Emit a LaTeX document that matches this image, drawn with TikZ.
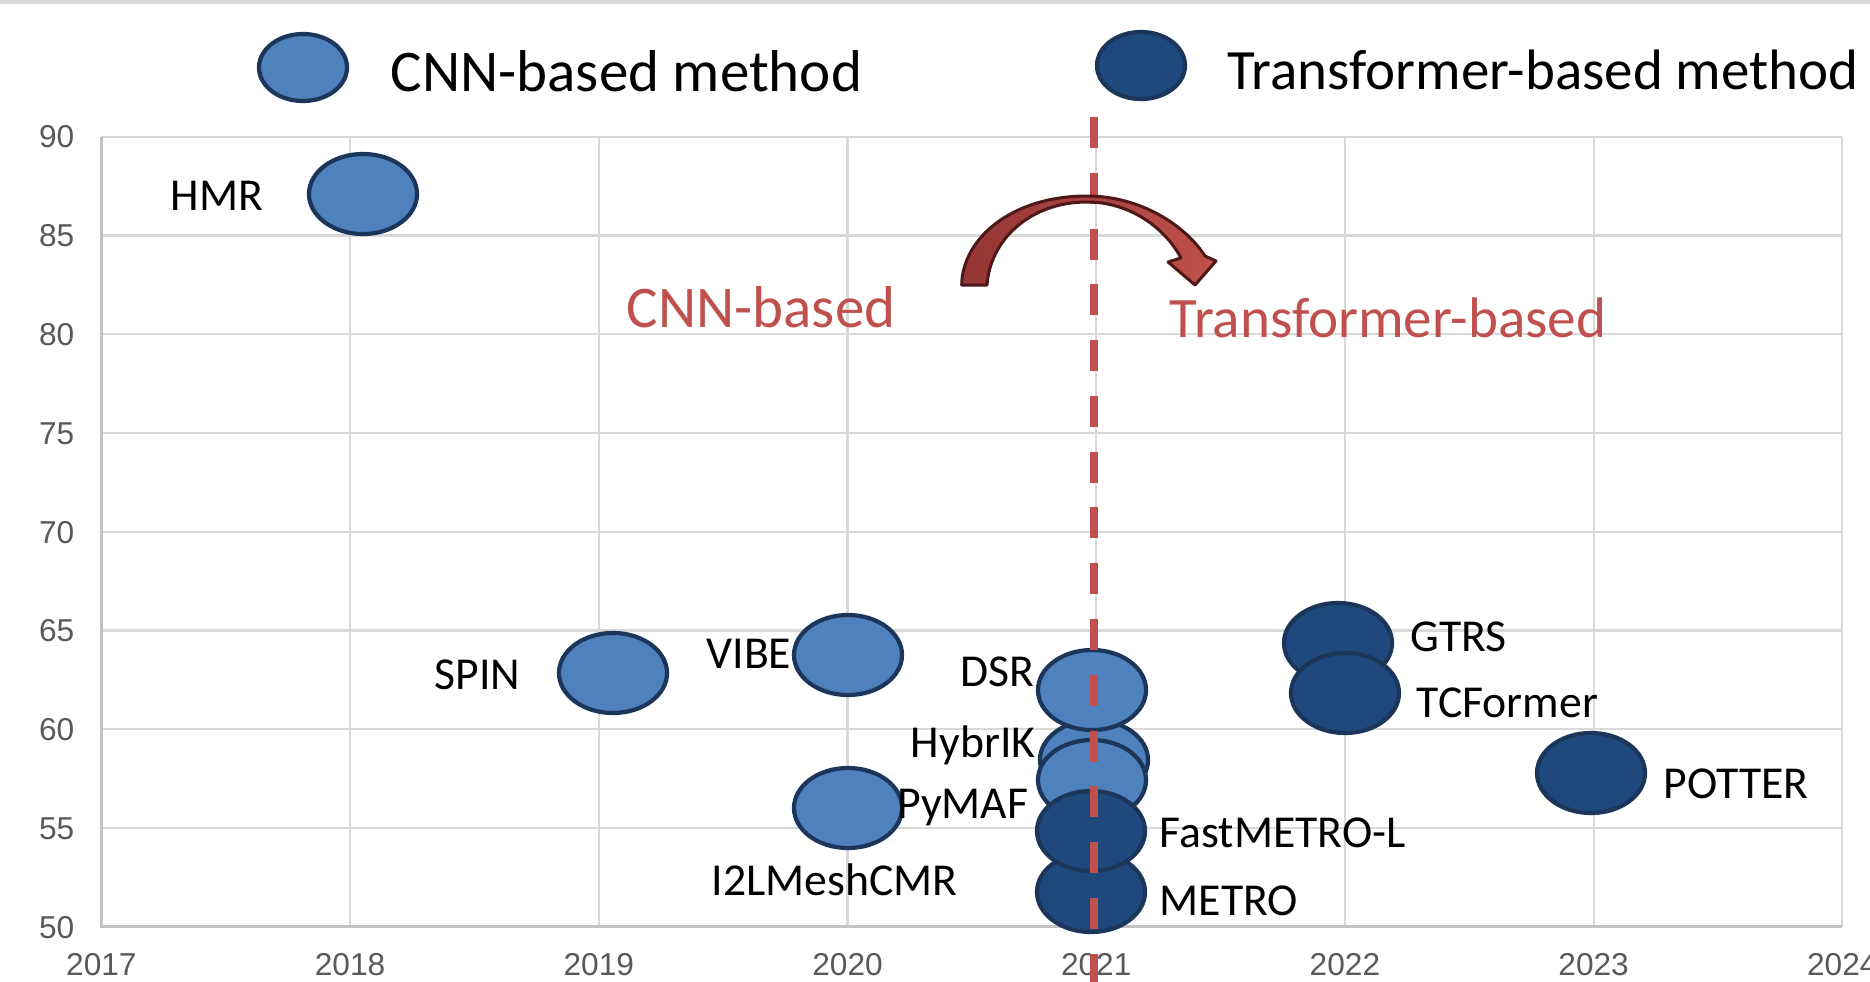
\documentclass[tikz,border=0pt]{standalone}
\usepackage{fontspec}
\setmainfont{Carlito}
\newfontfamily\tickfont{Liberation Sans}
\usetikzlibrary{shapes.geometric}
\definecolor{gridc}{HTML}{D9D9D9}
\definecolor{tickc}{HTML}{595959}
\definecolor{lightb}{HTML}{4F81BD}
\definecolor{darkb}{HTML}{1F497D}
\definecolor{bubline}{HTML}{1B355B}
\definecolor{redt}{HTML}{C0504D}
\definecolor{arrdark}{HTML}{943634}
\definecolor{arrline}{HTML}{4E1818}
\tikzset{
  bub/.style={ellipse, draw=bubline, line width=0.042cm, inner sep=0pt,
              minimum width=1.08cm, minimum height=0.80cm},
  lightbub/.style={bub, fill=lightb},
  darkbub/.style={bub, fill=darkb},
  legbub/.style={ellipse, draw=bubline, line width=0.042cm, inner sep=0pt,
              minimum width=0.88cm, minimum height=0.67cm},
  lbl/.style={inner sep=0pt, font=\fontsize{13pt}{15pt}\selectfont, text=black},
  legtxt/.style={inner sep=0pt, font=\fontsize{16.8pt}{20pt}\selectfont, text=black},
  legtxtb/.style={inner sep=0pt, font=\fontsize{16.2pt}{20pt}\selectfont, text=black},
  redtxt/.style={inner sep=0pt, font=\fontsize{16.8pt}{20pt}\selectfont, text=redt},
  redtxtb/.style={inner sep=0pt, font=\fontsize{16.25pt}{20pt}\selectfont, text=redt},
  tick/.style={inner sep=0pt, font=\tickfont\fontsize{9pt}{11pt}\selectfont, text=tickc},
  grid line/.style={draw=gridc, line width=0.6pt},
}
\begin{document}
\begin{tikzpicture}[x=0.01cm, y=-0.01cm]
\useasboundingbox (0,0) rectangle (1870,982);
% top border
\draw[draw=gridc, line width=0.06cm] (0,1) -- (1870,1);
% grid
\foreach \v in {55,60,...,90}{
  \pgfmathsetmacro\yy{926.7-(\v-50)*19.75}
  \draw[grid line] (101.4,\yy) -- (1842.3,\yy);
}
\foreach \k in {1,...,7}{
  \pgfmathsetmacro\xx{101.4+\k*248.7}
  \draw[grid line] (\xx,136.7) -- (\xx,926.7);
}
\draw[draw=gridc!90!black, line width=0.8pt] (101.4,136.7) -- (101.4,926.7) -- (1842.3,926.7);
% y tick labels
\foreach \v in {50,55,...,90}{
  \pgfmathsetmacro\yy{926.7-(\v-50)*19.75+11.3}
  \node[tick, anchor=base east] (yt\v) at (75,\yy) {\v};
}
% x tick labels
\foreach \k in {0,...,7}{
  \pgfmathsetmacro\xx{101.4+\k*248.7}
  \pgfmathtruncatemacro\yr{2017+\k}
  \node[tick, anchor=base] (xt\yr) at (\xx,975) {\yr};
}
% legend
\node[legbub, fill=lightb] (legc) at (303,67.5) {};
\node[legtxt, anchor=base west] (legct) at (390,91.7) {CNN-based method};
\node[legbub, fill=darkb] (legt) at (1141,65.5) {};
\node[legtxtb, anchor=base west] (legtt) at (1227,89.3) {Transformer-based method};
% bubbles
\node[lightbub] (hmr) at (363,194) {};
\node[lightbub] (spin) at (613,673) {};
\node[lightbub] (vibe) at (848,655) {};
\node[lightbub] (i2l) at (848,808) {};
\node[lightbub] (hybrik) at (1094,760) {};
\node[lightbub] (dsr) at (1092,690) {};
\node[lightbub] (pymaf) at (1092,780) {};
\node[darkbub] (metro) at (1091,892) {};
\node[darkbub] (fast) at (1091,831) {};
\node[darkbub] (gtrs) at (1338,643) {};
\node[darkbub] (tcf) at (1345,693) {};
\node[darkbub] (potter) at (1591,773) {};
% labels
\node[lbl, anchor=base east] (hmrl) at (264,210) {HMR};
\node[lbl, anchor=base east] (spinl) at (521,689) {SPIN};
\node[lbl, anchor=base east] (vibel) at (792,668) {VIBE};
\node[lbl, anchor=base west] (i2ll) at (711,895) {I2LMeshCMR};
\node[lbl, anchor=base east] (pymafl) at (1029,818) {PyMAF};
\node[lbl, anchor=base east] (hybrikl) at (1036,757) {HybrIK};
\node[lbl, anchor=base east] (dsrl) at (1035,686) {DSR};
\node[lbl, anchor=base west] (gtrsl) at (1410,651) {GTRS};
\node[lbl, anchor=base west] (tcfl) at (1416,717) {TCFormer};
\node[lbl, anchor=base west] (potterl) at (1663,798) {POTTER};
\node[lbl, anchor=base west] (fastl) at (1159,847) {FastMETRO-L};
\node[lbl, anchor=base west] (metrol) at (1159,915) {METRO};
% red region labels
\node[redtxt, anchor=base west] (cnnr) at (626,327) {CNN-based};
\node[redtxtb, anchor=base west] (trr) at (1169,337) {Transformer-based};
% dashed divider
\coordinate (dtop) at (1094,117);
\coordinate (dbot) at (1094,982);
\draw[draw=redt, line width=0.083cm, dash pattern=on 0.31cm off 0.2475cm] (dtop) -- (dbot);
% curved arrow
\path[draw=arrline, line width=0.03cm, line join=round, left color=arrdark, right color=redt]
  (961.7,285) .. controls (962,240) and (1010,196) .. (1087,196)
  .. controls (1140,196) and (1185,225) .. (1205,256)
  -- (1216,261) -- (1195,285) -- (1168,262) -- (1181,258)
  .. controls (1165,228) and (1130,202) .. (1087,202)
  .. controls (1030,202) and (990,240) .. (987,285) -- cycle;
\end{tikzpicture}
\end{document}
